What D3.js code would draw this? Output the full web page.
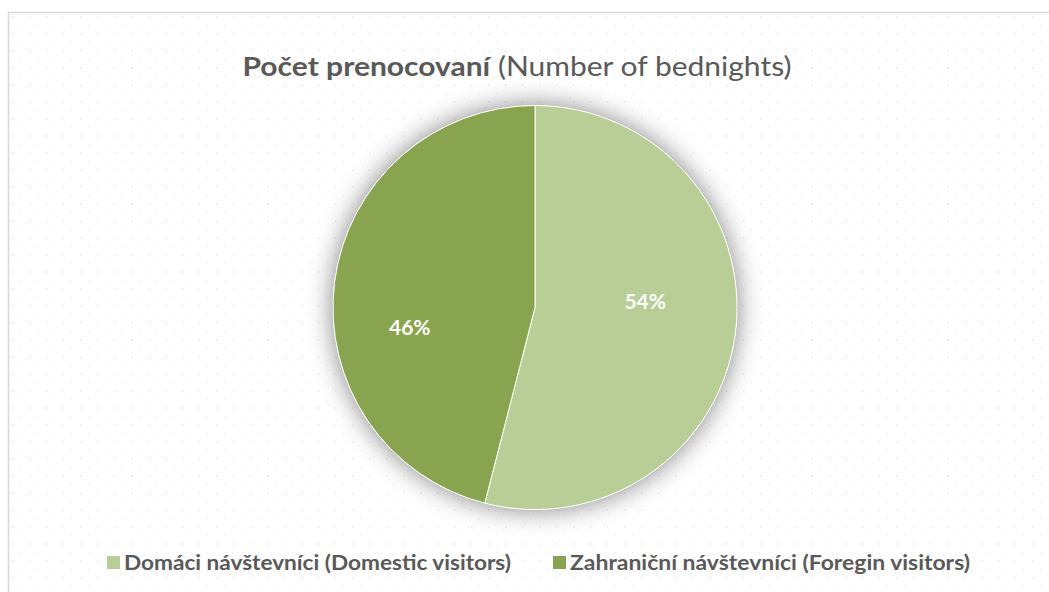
<!DOCTYPE html>
<html>
<head>
<meta charset="utf-8">
<script src="https://cdnjs.cloudflare.com/ajax/libs/d3/7.8.5/d3.min.js"></script>
<style>
html,body{margin:0;padding:0;background:#fff;}
svg{display:block;}
</style>
</head>
<body>
<svg id="chart" width="1049" height="592"></svg>
<script>
const categories = ["Domáci návštevníci", "Zahraniční návštevníci"];
const legendLabels = ["Domáci návštevníci (Domestic visitors)", "Zahraniční návštevníci (Foregin visitors)"];
const values = [54, 46];
const valueLabels = ["54%", "46%"];
const colors = ["#b9ce96", "#89a44e"];
const titleBold = "Počet prenocovaní";
const titleNormal = " (Number of bednights)";

const W = 1049, H = 592;
const svg = d3.select("#chart");
const defs = svg.append("defs");

// dotted background pattern (staggered)
const pat = defs.append("pattern").attr("id", "dots").attr("patternUnits", "userSpaceOnUse")
  .attr("x", 4).attr("y", 0.5).attr("width", 17).attr("height", 17);
pat.append("rect").attr("x", 8).attr("y", 16).attr("width", 1.3).attr("height", 1.3).attr("fill", "#d6d6d6");
pat.append("rect").attr("x", 16.5).attr("y", 7.5).attr("width", 1.3).attr("height", 1.3).attr("fill", "#d6d6d6");

const flt = defs.append("filter").attr("id", "glow").attr("x", "-30%").attr("y", "-30%").attr("width", "160%").attr("height", "160%");
flt.append("feGaussianBlur").attr("in", "SourceAlpha").attr("stdDeviation", 13).attr("result", "b");
flt.append("feFlood").attr("flood-color", "#000").attr("flood-opacity", 0.5).attr("result", "c");
flt.append("feComposite").attr("in", "c").attr("in2", "b").attr("operator", "in").attr("result", "s");
const m = flt.append("feMerge");
m.append("feMergeNode").attr("in", "s");
m.append("feMergeNode").attr("in", "SourceGraphic");

// chart area
svg.append("rect").attr("x", 8.5).attr("y", 12.5).attr("width", W + 10).attr("height", H + 10)
  .attr("fill", "url(#dots)").attr("stroke", "#d9d9d9").attr("stroke-width", 1.5);

// title
const title = svg.append("text").attr("x", 517).attr("y", 76).attr("text-anchor", "middle")
  .attr("font-family", "Lato, 'Open Sans', sans-serif").attr("font-size", 26).attr("fill", "#595959")
  .attr("textLength", 549).attr("lengthAdjust", "spacingAndGlyphs");
title.append("tspan").attr("font-weight", "bold").text(titleBold);
title.append("tspan").text(titleNormal);

// pie
const cx = 535, cy = 307.5, R = 202;
const pie = d3.pie().sort(null).value(d => d)(values);
const arc = d3.arc().innerRadius(0).outerRadius(R);
const g = svg.append("g").attr("transform", `translate(${cx},${cy})`);
g.append("circle").attr("r", R).attr("fill", "#fff").attr("filter", "url(#glow)");
g.selectAll("path.slice").data(pie).join("path").attr("class", "slice")
  .attr("d", arc).attr("fill", (d, i) => colors[i]).attr("stroke", "#fff").attr("stroke-width", 1);

const labelArc = d3.arc().innerRadius(R * 0.55).outerRadius(R * 0.6);
const nudge = [[-5, -22], [-10, 34]];
g.selectAll("text.lbl").data(pie).join("text").attr("class", "lbl")
  .attr("x", (d, i) => labelArc.centroid(d)[0] + nudge[i][0])
  .attr("y", (d, i) => labelArc.centroid(d)[1] + nudge[i][1])
  .attr("text-anchor", "middle").attr("dominant-baseline", "central")
  .attr("font-family", "Lato, 'Open Sans', sans-serif").attr("font-weight", "bold")
  .attr("font-size", 21).attr("fill", "#fff")
  .text((d, i) => valueLabels[i]);

// legend
const legX = [107, 553];
const legW = [387, 400];
const lg = svg.append("g");
legendLabels.forEach((t, i) => {
  lg.append("rect").attr("x", legX[i]).attr("y", 556).attr("width", 13).attr("height", 13).attr("fill", colors[i]);
  lg.append("text").attr("x", legX[i] + 17).attr("y", 570)
    .attr("font-family", "Lato, 'Open Sans', sans-serif").attr("font-weight", "bold")
    .attr("font-size", 20).attr("fill", "#595959")
    .attr("textLength", legW[i]).attr("lengthAdjust", "spacingAndGlyphs")
    .text(t);
});
</script>
</body>
</html>
